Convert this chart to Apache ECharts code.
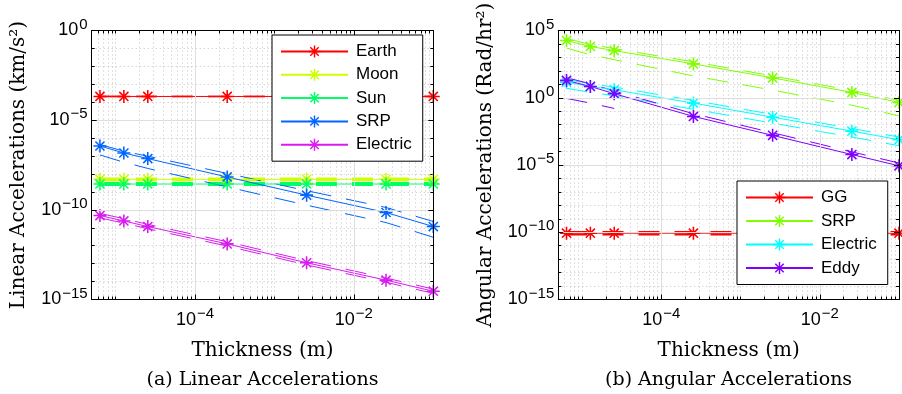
<!DOCTYPE html>
<html>
<head>
<meta charset="utf-8">
<script src="https://cdn.jsdelivr.net/npm/echarts@6/dist/echarts.min.js"></script>
<style>
html,body{margin:0;padding:0;background:#fff;}
#c{width:902px;height:394px;}
</style>
</head>
<body>
<div id="c"></div>
<script>
// ---------- data ----------
const xThick = [6.35e-6, 1.27e-5, 2.54e-5, 2.54e-4, 2.54e-3, 2.54e-2, 1.0e-1];

// (a) linear accelerations (km/s^2)
const linNames = ['Earth', 'Moon', 'Sun', 'SRP', 'Electric'];
const earthAcc = [2.1e-4, 2.1e-4, 2.1e-4, 2.1e-4, 2.1e-4, 2.1e-4, 2.1e-4];
const earthHi  = [2.2e-4, 2.2e-4, 2.2e-4, 2.2e-4, 2.2e-4, 2.2e-4, 2.2e-4];
const earthLo  = [2.0e-4, 2.0e-4, 2.0e-4, 2.0e-4, 2.0e-4, 2.0e-4, 2.0e-4];
const moonAcc  = [5.0e-9, 5.0e-9, 5.0e-9, 5.0e-9, 5.0e-9, 5.0e-9, 5.0e-9];
const moonHi   = [5.6e-9, 5.6e-9, 5.6e-9, 5.6e-9, 5.6e-9, 5.6e-9, 5.6e-9];
const moonLo   = [4.45e-9, 4.45e-9, 4.45e-9, 4.45e-9, 4.45e-9, 4.45e-9, 4.45e-9];
const sunAcc   = [2.75e-9, 2.75e-9, 2.75e-9, 2.75e-9, 2.75e-9, 2.75e-9, 2.75e-9];
const sunHi    = [3.1e-9, 3.1e-9, 3.1e-9, 3.1e-9, 3.1e-9, 3.1e-9, 3.1e-9];
const sunLo    = [2.45e-9, 2.45e-9, 2.45e-9, 2.45e-9, 2.45e-9, 2.45e-9, 2.45e-9];
const srpLinAcc = [3.63e-7, 1.48e-7, 7.2e-8, 6.8e-9, 6.6e-10, 7.1e-11, 1.17e-11];
const srpLinHi  = [4.4e-7, 1.86e-7, 9.8e-8, 1.07e-8, 1.17e-9, 1.35e-10, 2.24e-11];
const srpLinLo  = [1.15e-7, 4.5e-8, 2.04e-8, 1.9e-9, 1.82e-10, 1.95e-11, 2.95e-12];
const elecLinAcc = [4.8e-11, 2.4e-11, 1.17e-11, 1.26e-12, 1.12e-13, 1.2e-14, 2.9e-15];
const elecLinHi  = [6.3e-11, 3.2e-11, 1.55e-11, 1.66e-12, 1.48e-13, 1.58e-14, 3.8e-15];
const elecLinLo  = [3.6e-11, 1.8e-11, 8.9e-12, 9.5e-13, 8.5e-14, 9.1e-15, 2.2e-15];

// (b) angular accelerations (Rad/hr^2)
const angNames = ['GG', 'SRP', 'Electric', 'Eddy'];
const ggAcc = [8.5e-11, 8.5e-11, 8.5e-11, 8.5e-11, 8.5e-11, 8.5e-11, 8.5e-11];
const ggHi  = [1.05e-10, 1.05e-10, 1.05e-10, 1.05e-10, 1.05e-10, 1.05e-10, 1.05e-10];
const ggLo  = [6.9e-11, 6.9e-11, 6.9e-11, 6.9e-11, 6.9e-11, 6.9e-11, 6.9e-11];
const srpAngAcc = [1.8e4, 6.5e3, 3.2e3, 330, 30, 2.5, 0.45];
const srpAngHi  = [2.5e4, 9.2e3, 4.5e3, 470, 42, 3.5, 0.63];
const srpAngLo  = [5.0e3, 1.55e3, 680, 42, 3.7, 0.28, 0.045];
const elecAngAcc = [14.5, 6.9, 3.9, 0.4, 0.036, 3.3e-3, 7.6e-4];
const elecAngHi  = [23, 11, 6.2, 0.63, 0.058, 5.2e-3, 1.2e-3];
const elecAngLo  = [5.1, 2.5, 1.4, 0.14, 0.013, 1.2e-3, 2.7e-4];
const eddyAngAcc = [19.5, 6.9, 2.0, 0.041, 1.6e-3, 6.0e-5, 8.7e-6];
const eddyAngHi  = [31, 11, 3.2, 0.065, 2.5e-3, 9.5e-5, 1.4e-5];
const eddyAngLo  = [0.89, 0.40, 0.16, null, null, null, null];

// axis ticks
const xMajor = [1e-4, 1e-2];
const yMajorLin = [1e-15, 1e-10, 1e-5, 1e0];
const yMajorAng = [1e-15, 1e-10, 1e-5, 1e0, 1e5];
const xRange = [5e-6, 0.1];
const yRangeLin = [1e-15, 1e0];
const yRangeAng = [1e-15, 1e5];

const linColors = ['#ff0000', '#ccff00', '#00ff66', '#0066ff', '#d81cf0'];
const angColors = ['#ff0000', '#80ff00', '#00ffff', '#8000ff'];

// ---------- helpers ----------
const SANS = 'Liberation Sans';
const SERIF = 'DejaVu Serif';
const ASTER = 'path://M44 0L56 0L56 100L44 100Z M0 44L100 44L100 56L0 56Z M19.2 10.8L89.2 80.8L80.8 89.2L10.8 19.2Z M80.8 10.8L89.2 19.2L19.2 89.2L10.8 80.8Z';

function rnd(v) { return Number(v.toPrecision(6)); }
function minorX(lo, hi, majors) {
  const out = [];
  for (let d = -7; d <= 0; d++) for (let m = 1; m <= 9; m++) {
    const v = rnd(m * Math.pow(10, d));
    if (v > lo * 1.0001 && v < hi * 0.9999 && majors.indexOf(v) < 0) out.push(v);
  }
  return out;
}
function minorY(lo, hi, majors) {
  const out = [];
  for (let d = -20; d <= 10; d++) {
    const v = rnd(Math.pow(10, d));
    if (v > lo * 1.0001 && v < hi * 0.9999 && majors.some(m => Math.abs(Math.log10(m) - d) < 1e-6) === false) out.push(v);
  }
  return out;
}
const expFmt = v => {
  const e = Math.round(Math.log10(v));
  return '{b|10}{e|' + (e < 0 ? '\u2212' + (-e) : e) + '}';
};
const labelRich = {
  b: { fontSize: 18, fontFamily: SANS, color: '#000' },
  e: { fontSize: 15, fontFamily: SANS, color: '#000', padding: [0, 0, 12, 1] }
};
const BLACK = { color: '#000', width: 1 };
const MAJOR_GRID = { show: true, lineStyle: { color: '#dedede', width: 1, type: 'solid' } };
const MINOR_GRID = { show: true, lineStyle: { color: '#c2c2c2', width: 1, type: [1, 3] } };

function xAxes(g, name) {
  const minors = minorX(xRange[0], xRange[1], xMajor);
  const base = { type: 'log', logBase: 10, gridIndex: g, min: xRange[0], max: xRange[1] };
  return [
    Object.assign({}, base, {
      position: 'bottom', name: name, nameLocation: 'middle', nameGap: 41,
      nameTextStyle: { fontFamily: SERIF, fontSize: 20, color: '#000' },
      axisLine: { show: true, onZero: false, lineStyle: BLACK },
      axisTick: { show: true, inside: true, length: 5, customValues: xMajor, lineStyle: BLACK },
      axisLabel: { show: true, margin: 7, customValues: xMajor, formatter: expFmt, rich: labelRich },
      splitLine: MAJOR_GRID, z: 5
    }),
    Object.assign({}, base, {
      position: 'top',
      axisLine: { show: true, onZero: false, lineStyle: BLACK },
      axisTick: { show: true, inside: true, length: 5, customValues: xMajor, lineStyle: BLACK },
      axisLabel: { show: false }, splitLine: { show: false }, z: 5
    }),
    Object.assign({}, base, {
      position: 'top',
      axisLine: { show: false },
      axisTick: { show: true, inside: true, length: 3, customValues: minors, lineStyle: BLACK },
      axisLabel: { show: false }, splitLine: MINOR_GRID
    }),
    Object.assign({}, base, {
      position: 'bottom',
      axisLine: { show: false },
      axisTick: { show: true, inside: true, length: 3, customValues: minors, lineStyle: BLACK },
      axisLabel: { show: false }, splitLine: { show: false }
    })
  ];
}
function yAxes(g, name, range, majors) {
  const minors = minorY(range[0], range[1], majors);
  const base = { type: 'log', logBase: 10, gridIndex: g, min: range[0], max: range[1] };
  return [
    Object.assign({}, base, {
      position: 'left', name: name, nameLocation: 'middle', nameGap: 63,
      nameTextStyle: { fontFamily: SERIF, fontSize: 20, color: '#000' },
      axisLine: { show: true, onZero: false, lineStyle: BLACK },
      axisTick: { show: true, inside: true, length: 5, customValues: majors, lineStyle: BLACK },
      axisLabel: { show: true, margin: 4, customValues: majors, formatter: expFmt, rich: labelRich },
      splitLine: MAJOR_GRID, z: 5
    }),
    Object.assign({}, base, {
      position: 'right',
      axisLine: { show: true, onZero: false, lineStyle: BLACK },
      axisTick: { show: true, inside: true, length: 5, customValues: majors, lineStyle: BLACK },
      axisLabel: { show: false }, splitLine: { show: false }, z: 5
    }),
    Object.assign({}, base, {
      position: 'right',
      axisLine: { show: false },
      axisTick: { show: true, inside: true, length: 3, customValues: minors, lineStyle: BLACK },
      axisLabel: { show: false }, splitLine: MINOR_GRID
    }),
    Object.assign({}, base, {
      position: 'left',
      axisLine: { show: false },
      axisTick: { show: true, inside: true, length: 3, customValues: minors, lineStyle: BLACK },
      axisLabel: { show: false }, splitLine: { show: false }
    })
  ];
}

const series = [];
function pts(arr) { return xThick.map((x, i) => [x, arr[i]]); }
function addGroup(name, solid, hi, lo, color, axisIdx, dashW) {
  [hi, lo].forEach((arr, k) => {
    series.push({
      name: name + (k ? ' lo' : ' hi'), type: 'line', xAxisIndex: axisIdx, yAxisIndex: axisIdx,
      data: pts(arr), symbol: 'none', silent: true, connectNulls: false,
      lineStyle: { color: color, width: dashW, type: [21, 15] }, z: 3
    });
  });
  series.push({
    name: name, type: 'line', xAxisIndex: axisIdx, yAxisIndex: axisIdx,
    data: pts(solid), symbol: ASTER, symbolSize: 13, clip: false,
    itemStyle: { color: color }, lineStyle: { color: color, width: 1, type: 'solid' }, z: 4
  });
}
addGroup(linNames[0], earthAcc, earthHi, earthLo, linColors[0], 0, 1);
addGroup(linNames[1], moonAcc, moonHi, moonLo, linColors[1], 0, 2);
addGroup(linNames[2], sunAcc, sunHi, sunLo, linColors[2], 0, 2);
addGroup(linNames[3], srpLinAcc, srpLinHi, srpLinLo, linColors[3], 0, 1);
addGroup(linNames[4], elecLinAcc, elecLinHi, elecLinLo, linColors[4], 0, 1);
// right panel: trailing spaces keep legend entries distinct from the left panel
addGroup(angNames[0] + ' ', ggAcc, ggHi, ggLo, angColors[0], 4, 2);
addGroup(angNames[1] + ' ', srpAngAcc, srpAngHi, srpAngLo, angColors[1], 4, 1);
addGroup(angNames[2] + ' ', elecAngAcc, elecAngHi, elecAngLo, angColors[2], 4, 1);
addGroup(angNames[3] + ' ', eddyAngAcc, eddyAngHi, eddyAngLo, angColors[3], 4, 1);

const legendCommon = {
  orient: 'vertical', itemWidth: 67, itemHeight: 15, selectedMode: false,
  backgroundColor: '#fff', borderColor: '#000', borderWidth: 1, borderRadius: 0,
  textStyle: { fontFamily: SANS, fontSize: 17, color: '#000', padding: [0, 0, 0, 3] },
  formatter: n => n.trim(), z: 10
};

const option = {
  animation: false,
  backgroundColor: '#fff',
  grid: [
    { left: 91.7, top: 30.5, width: 341.6, height: 269 },
    { left: 558.3, top: 30.5, width: 340.7, height: 269 }
  ],
  xAxis: xAxes(0, 'Thickness (m)').concat(xAxes(1, 'Thickness (m)')),
  yAxis: yAxes(0, 'Linear Accelerations (km/s²)', yRangeLin, yMajorLin)
    .concat(yAxes(1, 'Angular Accelerations (Rad/hr²)', yRangeAng, yMajorAng)),
  legend: [
    Object.assign({}, legendCommon, { data: linNames, left: 272, top: 35, itemGap: 6.3, padding: [8, 11, 8, 8] }),
    Object.assign({}, legendCommon, { data: angNames.map(n => n + ' '), left: 737, top: 181, itemGap: 6.5, padding: [8, 11, 8, 8] })
  ],
  graphic: [
    { type: 'text', x: 262.5, y: 380, style: { text: '(a) Linear Accelerations', align: 'center', verticalAlign: 'middle', font: '19px "DejaVu Serif"', fill: '#000' } },
    { type: 'text', x: 728.6, y: 380, style: { text: '(b) Angular Accelerations', align: 'center', verticalAlign: 'middle', font: '19px "DejaVu Serif"', fill: '#000' } }
  ],
  series: series
};
const chart = echarts.init(document.getElementById('c'), null, { renderer: 'canvas' });
chart.setOption(option);
</script>
</body>
</html>
